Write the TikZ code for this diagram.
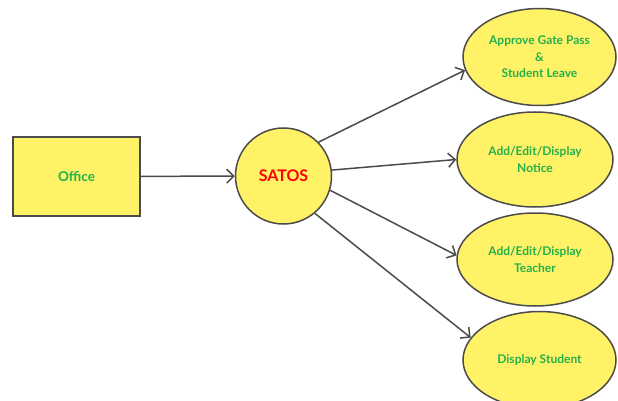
\documentclass[tikz,border=0pt]{standalone}
\usepackage{fontspec}
\setmainfont{Lato}
\usetikzlibrary{shapes.geometric, arrows.meta}
\definecolor{fillyellow}{RGB}{255,242,102}
\definecolor{textgreen}{RGB}{34,177,76}
\definecolor{edgegray}{RGB}{75,75,75}
\begin{document}
\begin{tikzpicture}[x=1pt, y=-1pt,
  every node/.style={
    draw=edgegray, line width=1.5pt, fill=fillyellow, text=textgreen,
    font=\bfseries\fontsize{12}{16.5}\selectfont, align=center, inner sep=0pt
  },
  usecase/.style={ellipse, minimum width=153pt, minimum height=97pt},
  flow/.style={-{Straight Barb[length=7pt,width=14pt]}, draw=edgegray, line width=1.5pt}
  ]
  \useasboundingbox (0,0) rectangle (618,401);
  \node[minimum width=127pt, minimum height=79pt, font=\bfseries\fontsize{13.5}{16}\selectfont] (office) at (76.5,176.5) {Office};
  \node[circle, minimum size=96pt, text=red, font=\bfseries\fontsize{16}{18}\selectfont] (satos) at (283.5,176) {SATOS};
  \node[usecase] (gate) at (539.5,57) {Approve Gate Pass\\\&\\Student Leave};
  \node[usecase, minimum width=156pt, minimum height=95pt] (notice) at (535,159.5) {Add/Edit/Display\\Notice};
  \node[usecase, minimum width=156pt, minimum height=93pt] (teacher) at (535,259.5) {Add/Edit/Display\\Teacher};
  \node[usecase] (student) at (539.5,360) {Display Student};
  % arrows
  \draw[flow] (office) -- (satos);
  \draw[flow] (satos.44) -- (gate.190);
  \draw[flow] (satos.7) -- (notice.180);
  \draw[flow] (satos.-17) -- (teacher.177);
  \draw[flow] (satos.-50) -- (student.162);
\end{tikzpicture}
\end{document}
